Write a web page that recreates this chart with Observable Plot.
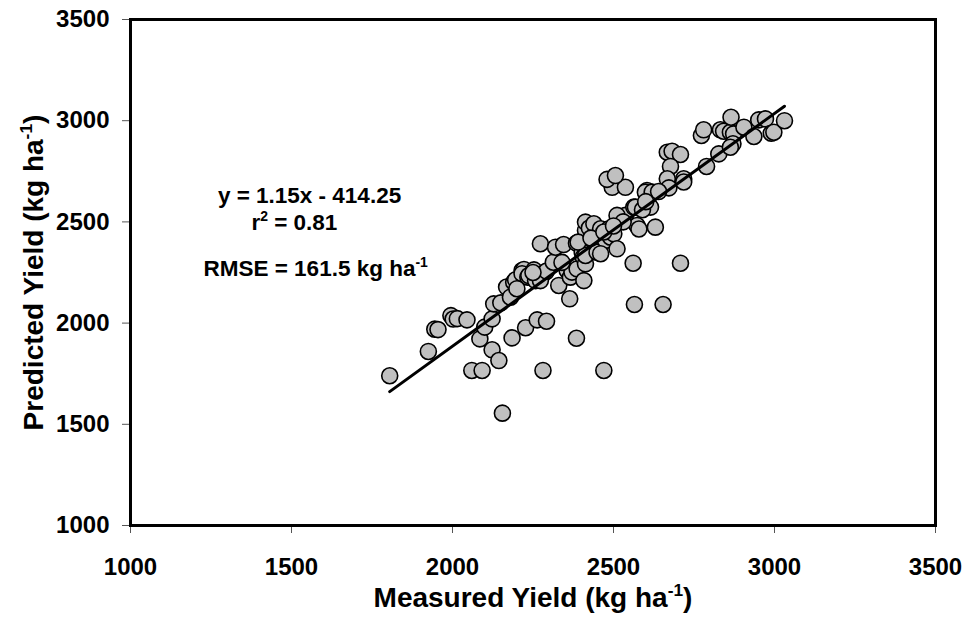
<!DOCTYPE html>
<html>
<head>
<meta charset="utf-8">
<script src="https://cdn.jsdelivr.net/npm/d3@7"></script>
<script src="https://cdn.jsdelivr.net/npm/@observablehq/plot@0.6"></script>
<style>
  html, body { margin: 0; padding: 0; background: #fff; }
  #chart svg { display: block; }
</style>
</head>
<body>
<div id="chart"></div>
<script>
// Measured vs predicted yield (kg ha-1)
const measured = [
  1805, 1925, 1945, 1955, 1995, 2002, 2015, 2045, 2060, 2092,
  2085, 2100, 2123, 2144, 2155, 2123, 2128, 2150, 2168, 2180,
  2190, 2185, 2227, 2263, 2292, 2281, 2196, 2216, 2222, 2216,
  2234, 2237, 2253, 2258, 2273, 2289, 2273, 2292, 2313, 2320,
  2330, 2345, 2356, 2364, 2366, 2371, 2385, 2387, 2385, 2403,
  2406, 2408, 2413, 2413, 2413, 2413, 2425, 2439, 2449, 2470,
  2460, 2486, 2475, 2491, 2460, 2501, 2511, 2516, 2537, 2561,
  2565, 2654, 2573, 2563, 2496, 2537, 2480, 2506, 2604, 2511,
  2568, 2579, 2599, 2620, 2615, 2630, 2708, 2667, 2682, 2708,
  2677, 2667, 2718, 2672, 2718, 2789, 2827, 2773, 2780, 2832,
  2842, 2863, 2865, 2873, 2871, 2863, 2905, 2936, 2951, 2972,
  2990, 2998, 3031, 2340, 2390, 2430, 2530, 2590, 2600, 2640,
  2250, 2200, 2470, 2500
];
const predicted = [
  1740, 1860, 1970, 1968, 2037, 2020, 2022, 2016, 1766, 1766,
  1922, 1980, 1868, 1815, 1555, 2021, 2095, 2100, 2178, 2128,
  2202, 1927, 1977, 2016, 2009, 1766, 2214, 2260, 2265, 2244,
  2227, 2235, 2263, 2210, 2392, 2252, 2210, 2257, 2301, 2375,
  2186, 2388, 2260, 2120, 2227, 2252, 2395, 2268, 1925, 2350,
  2326, 2210, 2293, 2334, 2458, 2499, 2470, 2491, 2350, 1766,
  2466, 2466, 2408, 2424, 2343, 2441, 2367, 2515, 2532, 2296,
  2092, 2092, 2482, 2573, 2671, 2671, 2710, 2729, 2655, 2532,
  2573, 2465, 2647, 2647, 2573, 2474, 2296, 2844, 2849, 2833,
  2774, 2713, 2713, 2668, 2697, 2774, 2836, 2927, 2955, 2955,
  2948, 2943, 3017, 2935, 2886, 2869, 2968, 2922, 3004, 3009,
  2938, 2943, 3000, 2300, 2400, 2420, 2500, 2560, 2600, 2650,
  2250, 2170, 2450, 2480
];

const xTicks = [1000, 1500, 2000, 2500, 3000, 3500];
const yTicks = [1000, 1500, 2000, 2500, 3000, 3500];

// Regression reported on the chart: y = 1.15x - 414.25, drawn over the measured range
const fitSlope = 1.15;
const fitIntercept = -414.25;
const fitRange = [1805, 3031];

const annoText = ["y = 1.15x - 414.25", "r^2 = 0.81", "RMSE = 161.5 kg ha^-1"];
const annoX = [1556, 1509, 1575];
const annoY = [2630, 2497, 2270];

const xTitle = "Measured Yield (kg ha^-1)";
const yTitle = "Predicted Yield (kg ha^-1)";

const points = measured.map((m, i) => ({measured: m, predicted: predicted[i]}));
const fitLine = fitRange.map(x => ({x, y: fitSlope * x + fitIntercept}));
const annotations = annoText.map((t, i) => ({text: t, x: annoX[i], y: annoY[i]}));

const chart = Plot.plot({
  width: 966,
  height: 617,
  marginLeft: 130,
  marginRight: 31,
  marginTop: 19,
  marginBottom: 92,
  style: {
    fontFamily: "'Liberation Sans', Arial, sans-serif",
    fontSize: "24px",
    fontWeight: "bold",
    color: "black",
    background: "white"
  },
  x: {domain: [1000, 3500]},
  y: {domain: [1000, 3500]},
  marks: [
    Plot.axisX({ticks: xTicks, tickFormat: d => String(d), tickSize: 8, tickPadding: 24, stroke: "#555", strokeWidth: 1, label: null}),
    Plot.axisY({ticks: yTicks, tickFormat: d => String(d), tickSize: 8, tickPadding: 13, stroke: "#555", strokeWidth: 1, label: null}),
    Plot.dot(points, {x: "measured", y: "predicted", r: 8, fill: "#c0c0c0", stroke: "black", strokeWidth: 1.6}),
    Plot.line(fitLine, {x: "x", y: "y", stroke: "black", strokeWidth: 3}),
    Plot.text(annotations, {x: "x", y: "y", text: "text", fontSize: 22.5, fontWeight: "bold", fill: "black", textAnchor: "middle"}),
    Plot.text([xTitle], {frameAnchor: "bottom", textAnchor: "middle", lineAnchor: "middle", dy: 73, fontSize: 28, fontWeight: "bold", fill: "black"}),
    Plot.text([yTitle], {frameAnchor: "left", textAnchor: "middle", lineAnchor: "middle", dx: -96, rotate: -90, fontSize: 28, fontWeight: "bold", fill: "black"}),
    Plot.frame({stroke: "black", strokeWidth: 3})
  ]
});

// Turn "^-1" / "^2" into real superscript tspans
chart.querySelectorAll("text").forEach(t => {
  const s = t.textContent;
  const m = s.match(/^(.*?)\^([-\d]+)(.*)$/);
  if (!m) return;
  t.textContent = "";
  const ns = "http://www.w3.org/2000/svg";
  const a = document.createElementNS(ns, "tspan");
  a.textContent = m[1];
  const b = document.createElementNS(ns, "tspan");
  b.textContent = m[2];
  b.setAttribute("font-size", "0.62em");
  b.setAttribute("dy", "-0.65em");
  const c = document.createElementNS(ns, "tspan");
  c.textContent = m[3];
  c.setAttribute("dy", "0.403em");
  t.appendChild(a); t.appendChild(b);
  if (m[3]) t.appendChild(c);
});

document.getElementById("chart").appendChild(chart);
</script>
</body>
</html>
